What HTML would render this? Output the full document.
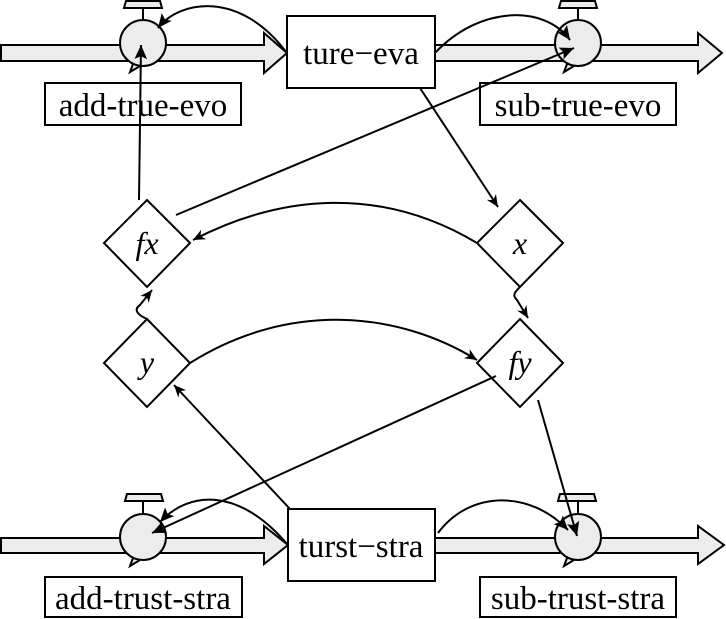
<!DOCTYPE html>
<html><head><meta charset="utf-8"><style>html,body{margin:0;padding:0;background:#fff}svg{display:block}</style></head><body>
<svg width="726" height="619" viewBox="0 0 726 619" xmlns="http://www.w3.org/2000/svg" font-family="Liberation Serif, serif">
<defs>
<marker id="a" viewBox="0 0 10 10" refX="10" refY="5" markerWidth="16" markerHeight="12" markerUnits="userSpaceOnUse" orient="auto"><path d="M0,0.5 L10,5 L0,9.5 L3,5 z" fill="#000"/></marker>
<marker id="b" viewBox="0 0 10 10" refX="10" refY="5" markerWidth="22" markerHeight="14" markerUnits="userSpaceOnUse" orient="auto"><path d="M0,0.5 L10,5 L0,9.5 L2,5 z" fill="#000"/></marker>
</defs>
<g stroke="#000" stroke-width="2" fill="#ececec">
<path d="M1,45 H264 V33 L287,53 L264,73 V61 H1 Z"/>
<path d="M435,45 H698 V33 L722,53 L698,73 V61 H435 Z"/>
<path d="M1,538 H264 V526 L288,545 L264,564 V553 H1 Z"/>
<path d="M435,538 H698 V526 L724,545 L698,564 V553 H435 Z"/>
</g>
<g stroke="#000" stroke-width="2" fill="#ececec">
<path d="M126,1 L160,1 L162,8 L124,8 Z"/><line x1="143" y1="8" x2="143" y2="20"/>
<path d="M133,64 L130,72 L140,66"/>
<circle cx="143" cy="43" r="23"/>
<path d="M561,1 L595,1 L597,8 L559,8 Z"/><line x1="578" y1="8" x2="578" y2="20"/>
<path d="M567,64 L564,72 L574,66"/>
<circle cx="578" cy="43" r="23"/>
<path d="M127,494 L161,494 L163,501 L125,501 Z"/><line x1="143" y1="501" x2="143" y2="514"/>
<path d="M133,558 L130,566 L140,560"/>
<circle cx="143" cy="537" r="23"/>
<path d="M560,494 L594,494 L596,501 L558,501 Z"/><line x1="578" y1="501" x2="578" y2="514"/>
<path d="M567,558 L564,566 L574,560"/>
<circle cx="578" cy="537" r="23"/>
</g>
<g stroke="#000" stroke-width="2" fill="#fff">
<rect x="287" y="16" width="148" height="72"/>
<rect x="288" y="509" width="147" height="72"/>
<rect x="45" y="83" width="196" height="42"/>
<rect x="480" y="83" width="196" height="42"/>
<rect x="45" y="577" width="197" height="40"/>
<rect x="480" y="577" width="196" height="40"/>
<path d="M147,200 L190,243 L147,287 L104,243 Z"/>
<path d="M520,200 L563,243 L520,287 L477,243 Z"/>
<path d="M147,319 L190,363 L147,407 L104,363 Z"/>
<path d="M520,319 L563,363 L520,407 L477,363 Z"/>
</g>
<g font-size="33" text-anchor="middle" fill="#000">
<text x="361" y="64">ture−eva</text>
<text x="361" y="557">turst−stra</text>
<text x="143" y="116">add-true-evo</text>
<text x="578" y="116">sub-true-evo</text>
<text x="143" y="609">add-trust-stra</text>
<text x="578" y="609">sub-trust-stra</text>
<g font-style="italic" font-size="32">
<text x="147" y="254">fx</text>
<text x="520" y="254">x</text>
<text x="147" y="373">y</text>
<text x="520" y="373">fy</text>
</g>
</g>
<g stroke="#000" stroke-width="2" fill="none">
<path d="M287,53 C240,-10 180,0 158,28" marker-end="url(#b)"/>
<path d="M139,200 L141,45" marker-end="url(#b)"/>
<path d="M435,53 C480,5 545,5 570,40" marker-end="url(#b)"/>
<path d="M176,215 L574,48" marker-end="url(#b)"/>
<path d="M420,88 L498,207" marker-end="url(#a)"/>
<path d="M477,243 C380,185 280,195 193,240" marker-end="url(#a)"/>
<path d="M520,287 C510,296 516,298 517,300 L528,318" marker-end="url(#a)"/>
<path d="M147,319 C138,315 133,310 140,305 L152,290" marker-end="url(#a)"/>
<path d="M190,363 C290,300 400,312 477,360" marker-end="url(#a)"/>
<path d="M290,509 L174,385" marker-end="url(#a)"/>
<path d="M496,376 L152,533" marker-end="url(#b)"/>
<path d="M288,545 C240,488 190,490 160,522" marker-end="url(#b)"/>
<path d="M438,533 C470,490 530,490 568,530" marker-end="url(#b)"/>
<path d="M538,400 L577,536" marker-end="url(#b)"/>
</g>
</svg>
</body></html>
